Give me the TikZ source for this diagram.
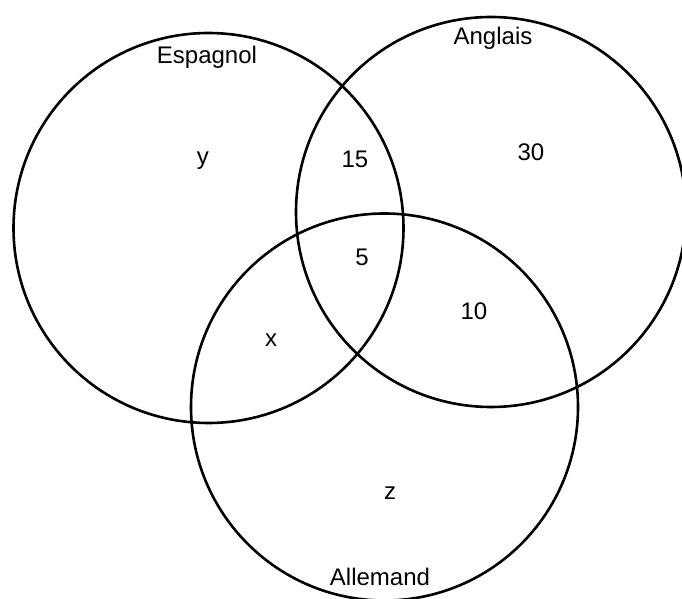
\documentclass[tikz,border=0pt]{standalone}
\usepackage{fontspec}
\setmainfont{Liberation Sans}
\usepackage{tikz}

\begin{document}
\begin{tikzpicture}[x=0.5pt, y=-0.5pt,
    set/.style={line width=1.3pt, black},
    lbl/.style={font=\fontsize{12}{14}\selectfont, inner sep=0pt}]

    \useasboundingbox (0,0) rectangle (682,599);

    \coordinate (esp) at (208.5, 228);
    \coordinate (ang) at (491, 212);
    \coordinate (all) at (384.5, 407);

    \draw[set] (esp) circle[radius=195];
    \draw[set] (ang) circle[radius=195];
    \draw[set] (all) circle[radius=193.5];

    \node[lbl] (espname) at (207, 57) {Espagnol};
    \node[lbl] (angname) at (493, 38) {Anglais};
    \node[lbl] (allname) at (380, 577) {Allemand};

    \node[lbl] (y) at (203, 161) {y};
    \node[lbl] (es_an) at (355, 159) {15};
    \node[lbl] (an) at (531, 152) {30};
    \node[lbl] (center) at (362, 257) {5};
    \node[lbl] (an_al) at (474, 311) {10};
    \node[lbl] (x) at (271, 340) {x};
    \node[lbl] (z) at (390, 493) {z};

\end{tikzpicture}
\end{document}
